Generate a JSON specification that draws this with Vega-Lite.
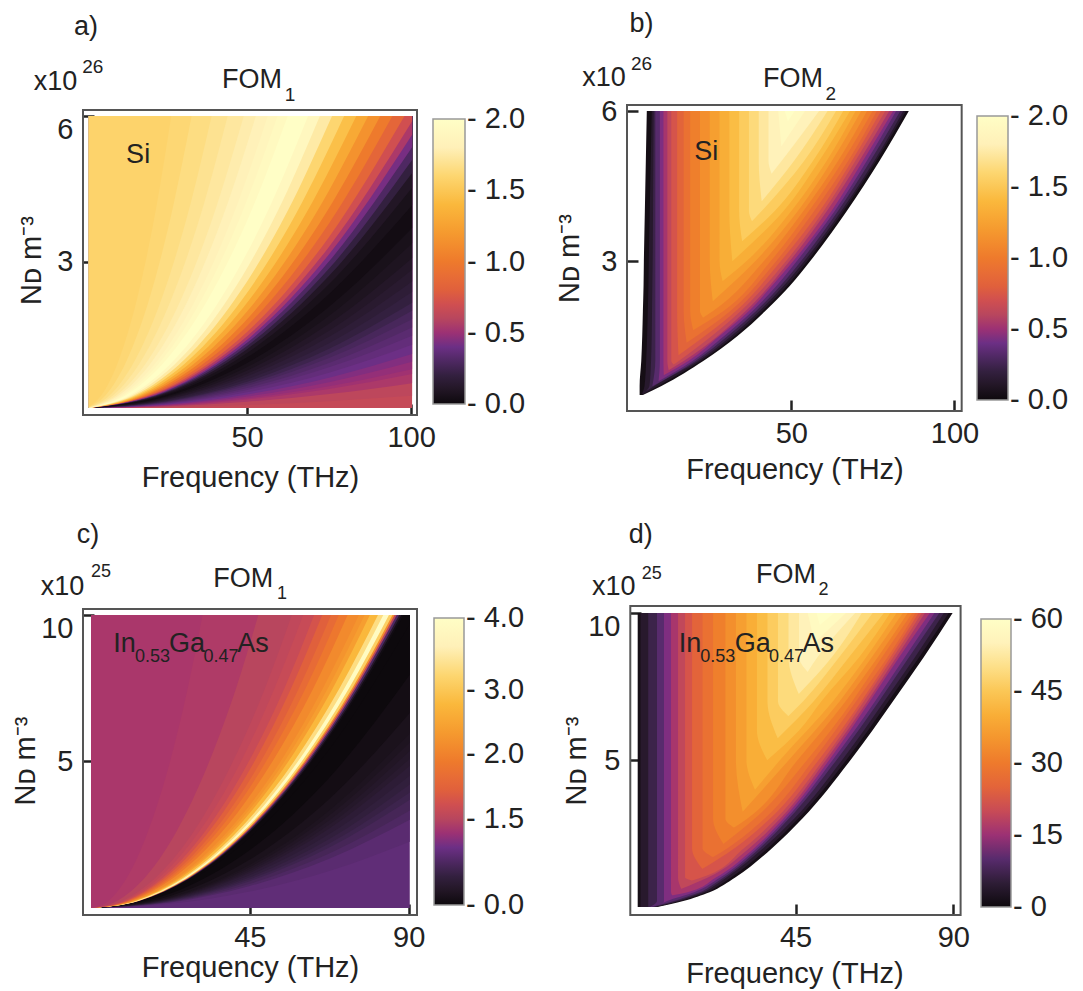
{"$schema":"https://vega.github.io/schema/vega-lite/v6.json","background":"white","padding":{"left":11,"top":10,"right":5,"bottom":5},"config":{"font":"Liberation Sans","view":{"stroke":null},"axis":{"grid":false,"domain":false,"labelFontSize":29,"titleFontSize":29,"titleFontWeight":"normal","labelColor":"#222","titleColor":"#222","tickColor":"#222","tickWidth":2.5,"tickSize":-11,"zindex":1,"labelOverlap":false,"labelFlush":false},"legend":{"labelFontSize":29,"labelColor":"#222","labelOverlap":false,"labelLimit":120,"gradientStrokeColor":"#999","gradientStrokeWidth":1.5,"labelOffset":0}},"resolve":{"scale":{"color":"independent"},"legend":{"color":"independent"}},"concat":[
{"width":334,"height":310,"encoding":{"x":{"field":"f","type":"quantitative","scale":{"domain":[0,101.8],"nice":false,"zero":false},"axis":{"values":[50,100],"title":"Frequency (THz)","labelPadding":19,"titlePadding":11}},"y":{"field":"n","type":"quantitative","stack":null,"scale":{"domain":[-0.144,6.226],"nice":false,"zero":false},"axis":{"values":[3,6],"title":"Nᴅ m⁻³","labelPadding":21,"titlePadding":10,"labelBaseline":{"condition":{"test":"datum.value==6","value":"top"},"value":"middle"}}}},"layer":[
{"mark":{"type":"area","orient":"vertical","interpolate":"monotone"},"encoding":{"y2":{"datum":6},"detail":{"field":"s"},"color":{"field":"v","type":"quantitative","scale":{"domain":[0,0.2,0.4,0.6,0.8,1,1.2,1.4,1.6,1.8,2],"range":["#0d090d","#33203f","#6c2f85","#b8465e","#e0603c","#ee7a2c","#f59a2f","#fab83c","#fdd670","#fff0b8","#ffffff"]},"legend":{"orient":"none","legendX":350,"legendY":14,"title":null,"type":"gradient","gradientLength":285,"gradientThickness":32,"values":[0,0.5,1,1.5,2],"labelExpr":"'- '+format(datum.value,'.1f')","encode":{"labels":{"update":{"baseline":{"value":"middle"}}}}}}},"data":{"values":[
{"s":"b","v":0.65,"f":1.8,"n":0},{"s":"b","v":0.65,"f":100.3,"n":0},
{"s":200,"v":0.62,"f":1.8,"n":0},{"s":200,"v":0.62,"f":25,"n":0.016},{"s":200,"v":0.62,"f":50,"n":0.063},{"s":200,"v":0.62,"f":75,"n":0.14},{"s":200,"v":0.62,"f":100.3,"n":0.25},
{"s":140,"v":0.55,"f":1.8,"n":0},{"s":140,"v":0.55,"f":25,"n":0.032},{"s":140,"v":0.55,"f":50,"n":0.128},{"s":140,"v":0.55,"f":75,"n":0.287},{"s":140,"v":0.55,"f":100.3,"n":0.51},
{"s":120,"v":0.51,"f":1.8,"n":0},{"s":120,"v":0.51,"f":25,"n":0.043},{"s":120,"v":0.51,"f":50,"n":0.174},{"s":120,"v":0.51,"f":75,"n":0.391},{"s":120,"v":0.51,"f":100.3,"n":0.699},
{"s":112,"v":0.48,"f":1.8,"n":0},{"s":112,"v":0.48,"f":25,"n":0.05},{"s":112,"v":0.48,"f":50,"n":0.2},{"s":112,"v":0.48,"f":75,"n":0.448},{"s":112,"v":0.48,"f":100.3,"n":0.797},
{"s":103,"v":0.44,"f":1.8,"n":0},{"s":103,"v":0.44,"f":25,"n":0.059},{"s":103,"v":0.44,"f":50,"n":0.236},{"s":103,"v":0.44,"f":75,"n":0.53},{"s":103,"v":0.44,"f":100.3,"n":0.948},
{"s":95,"v":0.4,"f":1.8,"n":0},{"s":95,"v":0.4,"f":25,"n":0.069},{"s":95,"v":0.4,"f":50,"n":0.277},{"s":95,"v":0.4,"f":75,"n":0.623},{"s":95,"v":0.4,"f":100.3,"n":1.108},
{"s":88,"v":0.37,"f":1.8,"n":0},{"s":88,"v":0.37,"f":25,"n":0.081},{"s":88,"v":0.37,"f":50,"n":0.323},{"s":88,"v":0.37,"f":75,"n":0.726},{"s":88,"v":0.37,"f":100.3,"n":1.299},
{"s":82,"v":0.34,"f":1.8,"n":0},{"s":82,"v":0.34,"f":25,"n":0.093},{"s":82,"v":0.34,"f":50,"n":0.372},{"s":82,"v":0.34,"f":75,"n":0.837},{"s":82,"v":0.34,"f":100.3,"n":1.487},
{"s":78,"v":0.31,"f":1.8,"n":0},{"s":78,"v":0.31,"f":25,"n":0.103},{"s":78,"v":0.31,"f":50,"n":0.411},{"s":78,"v":0.31,"f":75,"n":0.925},{"s":78,"v":0.31,"f":100.3,"n":1.654},
{"s":74,"v":0.28,"f":1.8,"n":0},{"s":74,"v":0.28,"f":25,"n":0.114},{"s":74,"v":0.28,"f":50,"n":0.457},{"s":74,"v":0.28,"f":75,"n":1.027},{"s":74,"v":0.28,"f":100.3,"n":1.826},
{"s":71,"v":0.24,"f":1.8,"n":0},{"s":71,"v":0.24,"f":25,"n":0.124},{"s":71,"v":0.24,"f":50,"n":0.496},{"s":71,"v":0.24,"f":75,"n":1.116},{"s":71,"v":0.24,"f":100.3,"n":1.996},
{"s":68,"v":0.2,"f":1.8,"n":0},{"s":68,"v":0.2,"f":25,"n":0.135},{"s":68,"v":0.2,"f":50,"n":0.541},{"s":68,"v":0.2,"f":75,"n":1.216},{"s":68,"v":0.2,"f":100.3,"n":2.163},
{"s":65,"v":0.17,"f":1.8,"n":0},{"s":65,"v":0.17,"f":25,"n":0.148},{"s":65,"v":0.17,"f":50,"n":0.592},{"s":65,"v":0.17,"f":75,"n":1.331},{"s":65,"v":0.17,"f":100.3,"n":2.381},
{"s":62,"v":0.14,"f":1.8,"n":0},{"s":62,"v":0.14,"f":25,"n":0.163},{"s":62,"v":0.14,"f":50,"n":0.65},{"s":62,"v":0.14,"f":75,"n":1.463},{"s":62,"v":0.14,"f":100.3,"n":2.601},
{"s":59.5,"v":0.11,"f":1.8,"n":0},{"s":59.5,"v":0.11,"f":25,"n":0.177},{"s":59.5,"v":0.11,"f":50,"n":0.706},{"s":59.5,"v":0.11,"f":75,"n":1.589},{"s":59.5,"v":0.11,"f":100.3,"n":2.842},
{"s":57,"v":0.08,"f":1.8,"n":0},{"s":57,"v":0.08,"f":25,"n":0.192},{"s":57,"v":0.08,"f":50,"n":0.769},{"s":57,"v":0.08,"f":75,"n":1.731},{"s":57,"v":0.08,"f":100.3,"n":3.078},
{"s":54.5,"v":0.05,"f":1.8,"n":0},{"s":54.5,"v":0.05,"f":25,"n":0.21},{"s":54.5,"v":0.05,"f":50,"n":0.842},{"s":54.5,"v":0.05,"f":75,"n":1.894},{"s":54.5,"v":0.05,"f":100.3,"n":3.387},
{"s":52,"v":0.02,"f":1.8,"n":0},{"s":52,"v":0.02,"f":25,"n":0.231},{"s":52,"v":0.02,"f":50,"n":0.925},{"s":52,"v":0.02,"f":75,"n":2.08},{"s":52,"v":0.02,"f":100.3,"n":3.698},
{"s":49,"v":0.05,"f":1.8,"n":0},{"s":49,"v":0.05,"f":25,"n":0.26},{"s":49,"v":0.05,"f":50,"n":1.041},{"s":49,"v":0.05,"f":75,"n":2.343},{"s":49,"v":0.05,"f":100.3,"n":4.165},
{"s":47,"v":0.1,"f":1.8,"n":0},{"s":47,"v":0.1,"f":25,"n":0.283},{"s":47,"v":0.1,"f":50,"n":1.132},{"s":47,"v":0.1,"f":75,"n":2.546},{"s":47,"v":0.1,"f":100.3,"n":4.527},
{"s":45.5,"v":0.2,"f":1.8,"n":0},{"s":45.5,"v":0.2,"f":25,"n":0.302},{"s":45.5,"v":0.2,"f":50,"n":1.208},{"s":45.5,"v":0.2,"f":75,"n":2.717},{"s":45.5,"v":0.2,"f":100.3,"n":4.83},
{"s":44.3,"v":0.3,"f":1.8,"n":0},{"s":44.3,"v":0.3,"f":25,"n":0.318},{"s":44.3,"v":0.3,"f":50,"n":1.274},{"s":44.3,"v":0.3,"f":75,"n":2.866},{"s":44.3,"v":0.3,"f":100.3,"n":5.096},
{"s":43.2,"v":0.42,"f":1.8,"n":0},{"s":43.2,"v":0.42,"f":25,"n":0.335},{"s":43.2,"v":0.42,"f":50,"n":1.34},{"s":43.2,"v":0.42,"f":75,"n":3.014},{"s":43.2,"v":0.42,"f":100.3,"n":5.358},
{"s":42.2,"v":0.55,"f":1.8,"n":0},{"s":42.2,"v":0.55,"f":25,"n":0.351},{"s":42.2,"v":0.55,"f":50,"n":1.404},{"s":42.2,"v":0.55,"f":75,"n":3.159},{"s":42.2,"v":0.55,"f":100.3,"n":5.615},
{"s":41.2,"v":0.7,"f":1.8,"n":0},{"s":41.2,"v":0.7,"f":25,"n":0.368},{"s":41.2,"v":0.7,"f":50,"n":1.473},{"s":41.2,"v":0.7,"f":75,"n":3.314},{"s":41.2,"v":0.7,"f":100.3,"n":5.891},
{"s":40,"v":0.85,"f":1.8,"n":0},{"s":40,"v":0.85,"f":25,"n":0.391},{"s":40,"v":0.85,"f":50,"n":1.563},{"s":40,"v":0.85,"f":75,"n":3.516},{"s":40,"v":0.85,"f":98,"n":6},
{"s":38.5,"v":1,"f":1.8,"n":0},{"s":38.5,"v":1,"f":19.25,"n":0.25},{"s":38.5,"v":1,"f":38.5,"n":1},{"s":38.5,"v":1,"f":57.75,"n":2.25},{"s":38.5,"v":1,"f":77,"n":4},{"s":38.5,"v":1,"f":94.3,"n":6},
{"s":37,"v":1.15,"f":1.8,"n":0},{"s":37,"v":1.15,"f":18.5,"n":0.25},{"s":37,"v":1.15,"f":37,"n":1},{"s":37,"v":1.15,"f":55.5,"n":2.25},{"s":37,"v":1.15,"f":74,"n":4},{"s":37,"v":1.15,"f":90.6,"n":6},
{"s":35.5,"v":1.3,"f":1.8,"n":0},{"s":35.5,"v":1.3,"f":17.75,"n":0.25},{"s":35.5,"v":1.3,"f":35.5,"n":1},{"s":35.5,"v":1.3,"f":53.25,"n":2.25},{"s":35.5,"v":1.3,"f":71,"n":4},{"s":35.5,"v":1.3,"f":86.9,"n":6},
{"s":34,"v":1.45,"f":1.8,"n":0},{"s":34,"v":1.45,"f":17,"n":0.25},{"s":34,"v":1.45,"f":34,"n":1},{"s":34,"v":1.45,"f":51,"n":2.25},{"s":34,"v":1.45,"f":68,"n":4},{"s":34,"v":1.45,"f":83.3,"n":6},
{"s":32.5,"v":1.6,"f":1.8,"n":0},{"s":32.5,"v":1.6,"f":16.25,"n":0.25},{"s":32.5,"v":1.6,"f":32.5,"n":1},{"s":32.5,"v":1.6,"f":48.75,"n":2.25},{"s":32.5,"v":1.6,"f":65,"n":4},{"s":32.5,"v":1.6,"f":79.6,"n":6},
{"s":31,"v":1.75,"f":1.8,"n":0},{"s":31,"v":1.75,"f":15.5,"n":0.25},{"s":31,"v":1.75,"f":31,"n":1},{"s":31,"v":1.75,"f":46.5,"n":2.25},{"s":31,"v":1.75,"f":62,"n":4},{"s":31,"v":1.75,"f":75.9,"n":6},
{"s":29.5,"v":1.9,"f":1.8,"n":0},{"s":29.5,"v":1.9,"f":14.75,"n":0.25},{"s":29.5,"v":1.9,"f":29.5,"n":1},{"s":29.5,"v":1.9,"f":44.25,"n":2.25},{"s":29.5,"v":1.9,"f":59,"n":4},{"s":29.5,"v":1.9,"f":72.2,"n":6},
{"s":28,"v":2,"f":1.8,"n":0},{"s":28,"v":2,"f":14,"n":0.25},{"s":28,"v":2,"f":28,"n":1},{"s":28,"v":2,"f":42,"n":2.25},{"s":28,"v":2,"f":56,"n":4},{"s":28,"v":2,"f":68.6,"n":6},
{"s":25.5,"v":1.92,"f":1.8,"n":0},{"s":25.5,"v":1.92,"f":12.75,"n":0.25},{"s":25.5,"v":1.92,"f":25.5,"n":1},{"s":25.5,"v":1.92,"f":38.25,"n":2.25},{"s":25.5,"v":1.92,"f":51,"n":4},{"s":25.5,"v":1.92,"f":62.4,"n":6},
{"s":24.2,"v":1.87,"f":1.8,"n":0},{"s":24.2,"v":1.87,"f":12.1,"n":0.25},{"s":24.2,"v":1.87,"f":24.2,"n":1},{"s":24.2,"v":1.87,"f":36.3,"n":2.25},{"s":24.2,"v":1.87,"f":48.4,"n":4},{"s":24.2,"v":1.87,"f":59.3,"n":6},
{"s":23,"v":1.82,"f":1.8,"n":0},{"s":23,"v":1.82,"f":11.5,"n":0.25},{"s":23,"v":1.82,"f":23,"n":1},{"s":23,"v":1.82,"f":34.5,"n":2.25},{"s":23,"v":1.82,"f":46,"n":4},{"s":23,"v":1.82,"f":56.3,"n":6},
{"s":21.5,"v":1.77,"f":1.8,"n":0.007},{"s":21.5,"v":1.77,"f":10.75,"n":0.25},{"s":21.5,"v":1.77,"f":21.5,"n":1},{"s":21.5,"v":1.77,"f":32.25,"n":2.25},{"s":21.5,"v":1.77,"f":43,"n":4},{"s":21.5,"v":1.77,"f":52.7,"n":6},
{"s":20,"v":1.73,"f":1.8,"n":0.008},{"s":20,"v":1.73,"f":10,"n":0.25},{"s":20,"v":1.73,"f":20,"n":1},{"s":20,"v":1.73,"f":30,"n":2.25},{"s":20,"v":1.73,"f":40,"n":4},{"s":20,"v":1.73,"f":49,"n":6},
{"s":18,"v":1.69,"f":1.8,"n":0.01},{"s":18,"v":1.69,"f":9,"n":0.25},{"s":18,"v":1.69,"f":18,"n":1},{"s":18,"v":1.69,"f":27,"n":2.25},{"s":18,"v":1.69,"f":36,"n":4},{"s":18,"v":1.69,"f":44.1,"n":6},
{"s":16,"v":1.65,"f":1.8,"n":0.013},{"s":16,"v":1.65,"f":8,"n":0.25},{"s":16,"v":1.65,"f":16,"n":1},{"s":16,"v":1.65,"f":24,"n":2.25},{"s":16,"v":1.65,"f":32,"n":4},{"s":16,"v":1.65,"f":39.2,"n":6},
{"s":13.5,"v":1.61,"f":1.8,"n":0.018},{"s":13.5,"v":1.61,"f":6.75,"n":0.25},{"s":13.5,"v":1.61,"f":13.5,"n":1},{"s":13.5,"v":1.61,"f":20.25,"n":2.25},{"s":13.5,"v":1.61,"f":27,"n":4},{"s":13.5,"v":1.61,"f":33.1,"n":6},
{"s":11,"v":1.58,"f":1.8,"n":0.027},{"s":11,"v":1.58,"f":5.5,"n":0.25},{"s":11,"v":1.58,"f":11,"n":1},{"s":11,"v":1.58,"f":16.5,"n":2.25},{"s":11,"v":1.58,"f":22,"n":4},{"s":11,"v":1.58,"f":26.9,"n":6}
]}},
{"data":{"values":[{"f":0,"f2":101.8,"n":-0.144,"n2":6.123}]},"mark":{"type":"rect","fill":null,"stroke":"#555","strokeWidth":2},"encoding":{"x2":{"field":"f2"},"y2":{"field":"n2"}}},
{"data":{"values":[{"t":"a)","f":0.9,"n":7.83},{"t":"x10","f":-8.4,"n":6.7},{"t":"FOM","f":51.5,"n":6.74},{"t":"Si","f":16.8,"n":5.2}]},"mark":{"type":"text","fontSize":27,"align":"center","baseline":"middle","color":"#222"},"encoding":{"text":{"field":"t"}}},
{"data":{"values":[{"t":"26","f":3,"n":7},{"t":"1","f":63.1,"n":6.43}]},"mark":{"type":"text","fontSize":19,"align":"center","baseline":"middle","color":"#222"},"encoding":{"text":{"field":"t"}}}
]},
{"width":335,"height":306,"encoding":{"x":{"field":"f","type":"quantitative","scale":{"domain":[-0.37,102.3],"nice":false,"zero":false},"axis":{"values":[50,100],"title":"Frequency (THz)","labelPadding":19,"titlePadding":7}},"y":{"field":"n","type":"quantitative","stack":null,"scale":{"domain":[0,6.12],"nice":false,"zero":false},"axis":{"values":[3,6],"title":"Nᴅ m⁻³","labelPadding":21,"titlePadding":16}}},"layer":[
{"mark":{"type":"area","orient":"horizontal","interpolate":"monotone"},"encoding":{"x2":{"field":"f2"},"detail":{"field":"L"},"color":{"field":"v","type":"quantitative","scale":{"domain":[0,0.2,0.4,0.6,0.8,1,1.2,1.4,1.6,1.8,2],"range":["#0d090d","#33203f","#6c2f85","#b8465e","#e0603c","#ee7a2c","#f59a2f","#fab83c","#fdd670","#fff0b8","#ffffff"]},"legend":{"orient":"none","legendX":350,"legendY":11,"title":null,"type":"gradient","gradientLength":284,"gradientThickness":31,"values":[0,0.5,1,1.5,2],"labelExpr":"'- '+format(datum.value,'.1f')","encode":{"labels":{"update":{"baseline":{"value":"middle"}}}}}}},"data":{"values":[
{"L":0,"v":0.03,"n":0.32,"f":3.5,"f2":4.5},{"L":0,"v":0.03,"n":0.5,"f":3.5,"f2":10.2},{"L":0,"v":0.03,"n":1,"f":4,"f2":23},{"L":0,"v":0.03,"n":1.5,"f":4.3,"f2":33.5},{"L":0,"v":0.03,"n":2,"f":4.5,"f2":42},{"L":0,"v":0.03,"n":2.5,"f":4.7,"f2":49.5},{"L":0,"v":0.03,"n":3,"f":4.8,"f2":55.8},{"L":0,"v":0.03,"n":4,"f":5.1,"f2":67},{"L":0,"v":0.03,"n":5,"f":5.4,"f2":77},{"L":0,"v":0.03,"n":6,"f":5.7,"f2":86},
{"L":0.1,"v":0.13,"n":0.33,"f":4.2,"f2":4.4},{"L":0.1,"v":0.13,"n":0.5,"f":5,"f2":9.2},{"L":0.1,"v":0.13,"n":1,"f":5.5,"f2":22.2},{"L":0.1,"v":0.13,"n":1.5,"f":5.8,"f2":32.6},{"L":0.1,"v":0.13,"n":2,"f":6,"f2":41.1},{"L":0.1,"v":0.13,"n":2.5,"f":6.2,"f2":48.6},{"L":0.1,"v":0.13,"n":3,"f":6.3,"f2":54.9},{"L":0.1,"v":0.13,"n":4,"f":6.6,"f2":66},{"L":0.1,"v":0.13,"n":5,"f":6.9,"f2":76},{"L":0.1,"v":0.13,"n":6,"f":7.2,"f2":85.1},
{"L":0.2,"v":0.23,"n":0.4,"f":5.5,"f2":5.6},{"L":0.2,"v":0.23,"n":0.5,"f":6.5,"f2":8},{"L":0.2,"v":0.23,"n":1,"f":7,"f2":21.4},{"L":0.2,"v":0.23,"n":1.5,"f":7.2,"f2":31.6},{"L":0.2,"v":0.23,"n":2,"f":7.3,"f2":40.2},{"L":0.2,"v":0.23,"n":2.5,"f":7.4,"f2":47.6},{"L":0.2,"v":0.23,"n":3,"f":7.5,"f2":54},{"L":0.2,"v":0.23,"n":4,"f":7.6,"f2":65.3},{"L":0.2,"v":0.23,"n":5,"f":7.7,"f2":75.4},{"L":0.2,"v":0.23,"n":6,"f":7.8,"f2":84.3},
{"L":0.3,"v":0.33,"n":0.5,"f":7.4,"f2":7.6},{"L":0.3,"v":0.33,"n":1,"f":8.3,"f2":20.6},{"L":0.3,"v":0.33,"n":1.5,"f":8.3,"f2":30.5},{"L":0.3,"v":0.33,"n":2,"f":8.3,"f2":39.2},{"L":0.3,"v":0.33,"n":2.5,"f":8.3,"f2":46.6},{"L":0.3,"v":0.33,"n":3,"f":8.3,"f2":53},{"L":0.3,"v":0.33,"n":4,"f":8.3,"f2":64.3},{"L":0.3,"v":0.33,"n":5,"f":8.3,"f2":74.2},{"L":0.3,"v":0.33,"n":6,"f":8.3,"f2":83.4},
{"L":0.4,"v":0.43,"n":0.6,"f":9.3,"f2":9.4},{"L":0.4,"v":0.43,"n":1,"f":9.7,"f2":19.7},{"L":0.4,"v":0.43,"n":1.5,"f":9.7,"f2":29.4},{"L":0.4,"v":0.43,"n":2,"f":9.7,"f2":38.1},{"L":0.4,"v":0.43,"n":2.5,"f":9.7,"f2":45.4},{"L":0.4,"v":0.43,"n":3,"f":9.7,"f2":51.7},{"L":0.4,"v":0.43,"n":4,"f":9.7,"f2":63.3},{"L":0.4,"v":0.43,"n":5,"f":9.7,"f2":73.1},{"L":0.4,"v":0.43,"n":6,"f":9.7,"f2":82.1},
{"L":0.5,"v":0.53,"n":0.72,"f":10.9,"f2":11},{"L":0.5,"v":0.53,"n":1,"f":10.8,"f2":18.4},{"L":0.5,"v":0.53,"n":1.5,"f":10.8,"f2":28},{"L":0.5,"v":0.53,"n":2,"f":10.8,"f2":37},{"L":0.5,"v":0.53,"n":2.5,"f":10.8,"f2":44},{"L":0.5,"v":0.53,"n":3,"f":10.8,"f2":50.6},{"L":0.5,"v":0.53,"n":4,"f":10.8,"f2":62.3},{"L":0.5,"v":0.53,"n":5,"f":10.8,"f2":71.9},{"L":0.5,"v":0.53,"n":6,"f":10.8,"f2":81.2},
{"L":0.6,"v":0.63,"n":0.82,"f":12.4,"f2":12.5},{"L":0.6,"v":0.63,"n":1,"f":12,"f2":17},{"L":0.6,"v":0.63,"n":2,"f":12,"f2":36},{"L":0.6,"v":0.63,"n":3,"f":12,"f2":49.5},{"L":0.6,"v":0.63,"n":4,"f":12,"f2":60.9},{"L":0.6,"v":0.63,"n":5,"f":12,"f2":70.8},{"L":0.6,"v":0.63,"n":6,"f":12,"f2":80},
{"L":0.7,"v":0.73,"n":0.93,"f":13.9,"f2":14},{"L":0.7,"v":0.73,"n":1,"f":13.2,"f2":15.5},{"L":0.7,"v":0.73,"n":2,"f":13.2,"f2":34.5},{"L":0.7,"v":0.73,"n":3,"f":13.2,"f2":48.4},{"L":0.7,"v":0.73,"n":4,"f":13.2,"f2":59.9},{"L":0.7,"v":0.73,"n":5,"f":13.2,"f2":69.6},{"L":0.7,"v":0.73,"n":6,"f":13.2,"f2":78.8},
{"L":0.8,"v":0.83,"n":1.12,"f":15.4,"f2":15.5},{"L":0.8,"v":0.83,"n":2,"f":15,"f2":33},{"L":0.8,"v":0.83,"n":3,"f":15,"f2":46.8},{"L":0.8,"v":0.83,"n":4,"f":15,"f2":58.7},{"L":0.8,"v":0.83,"n":5,"f":15,"f2":68.5},{"L":0.8,"v":0.83,"n":6,"f":15,"f2":77.5},
{"L":0.9,"v":0.93,"n":1.37,"f":17.9,"f2":18},{"L":0.9,"v":0.93,"n":2,"f":17,"f2":31.3},{"L":0.9,"v":0.93,"n":3,"f":17,"f2":45.4},{"L":0.9,"v":0.93,"n":4,"f":17,"f2":57},{"L":0.9,"v":0.93,"n":5,"f":17,"f2":67.4},{"L":0.9,"v":0.93,"n":6,"f":17,"f2":76.2},
{"L":1,"v":1.03,"n":1.62,"f":19.9,"f2":20},{"L":1,"v":1.03,"n":2,"f":19,"f2":29.2},{"L":1,"v":1.03,"n":3,"f":19,"f2":43.7},{"L":1,"v":1.03,"n":4,"f":19,"f2":55.4},{"L":1,"v":1.03,"n":5,"f":19,"f2":65.8},{"L":1,"v":1.03,"n":6,"f":19,"f2":74.9},
{"L":1.1,"v":1.13,"n":1.87,"f":22.9,"f2":23},{"L":1.1,"v":1.13,"n":2,"f":22,"f2":26},{"L":1.1,"v":1.13,"n":3,"f":22,"f2":41.6},{"L":1.1,"v":1.13,"n":4,"f":22,"f2":53.7},{"L":1.1,"v":1.13,"n":5,"f":22,"f2":64.3},{"L":1.1,"v":1.13,"n":6,"f":22,"f2":73.2},
{"L":1.2,"v":1.23,"n":2.2,"f":25.9,"f2":26},{"L":1.2,"v":1.23,"n":3,"f":25,"f2":39},{"L":1.2,"v":1.23,"n":4,"f":25,"f2":52},{"L":1.2,"v":1.23,"n":5,"f":25,"f2":62.4},{"L":1.2,"v":1.23,"n":6,"f":25,"f2":71.4},
{"L":1.3,"v":1.33,"n":2.6,"f":28.9,"f2":29},{"L":1.3,"v":1.33,"n":3,"f":28,"f2":36.3},{"L":1.3,"v":1.33,"n":4,"f":28,"f2":50},{"L":1.3,"v":1.33,"n":5,"f":28,"f2":60.8},{"L":1.3,"v":1.33,"n":6,"f":28,"f2":69.7},
{"L":1.4,"v":1.43,"n":3,"f":31.9,"f2":32},{"L":1.4,"v":1.43,"n":4,"f":31,"f2":47.6},{"L":1.4,"v":1.43,"n":5,"f":31,"f2":58.5},{"L":1.4,"v":1.43,"n":6,"f":31,"f2":68},
{"L":1.5,"v":1.53,"n":3.4,"f":34.9,"f2":35},{"L":1.5,"v":1.53,"n":4,"f":34,"f2":44.9},{"L":1.5,"v":1.53,"n":5,"f":34,"f2":56.6},{"L":1.5,"v":1.53,"n":6,"f":34,"f2":65.9},
{"L":1.6,"v":1.63,"n":3.8,"f":37.9,"f2":38},{"L":1.6,"v":1.63,"n":4,"f":37,"f2":40.9},{"L":1.6,"v":1.63,"n":5,"f":37,"f2":53.9},{"L":1.6,"v":1.63,"n":6,"f":37,"f2":63.7},
{"L":1.7,"v":1.73,"n":4.2,"f":40.9,"f2":41},{"L":1.7,"v":1.73,"n":5,"f":40,"f2":50.8},{"L":1.7,"v":1.73,"n":6,"f":40,"f2":61.1},
{"L":1.8,"v":1.83,"n":4.75,"f":43.9,"f2":44},{"L":1.8,"v":1.83,"n":5,"f":43,"f2":47},{"L":1.8,"v":1.83,"n":6,"f":43,"f2":58.5},
{"L":1.9,"v":1.93,"n":5.3,"f":46.9,"f2":47},{"L":1.9,"v":1.93,"n":6,"f":46,"f2":54.2},
{"L":1.97,"v":2,"n":5.8,"f":48.9,"f2":49},{"L":1.97,"v":2,"n":6,"f":48,"f2":51}
]}},
{"data":{"values":[{"f":-0.37,"f2":102.2,"n":0,"n2":6.12}]},"mark":{"type":"rect","fill":null,"stroke":"#555","strokeWidth":2},"encoding":{"x2":{"field":"f2"},"y2":{"field":"n2"}}},
{"data":{"values":[{"t":"b)","f":4.1,"n":7.74},{"t":"x10","f":-7.4,"n":6.66},{"t":"FOM","f":50.5,"n":6.64},{"t":"Si","f":23.9,"n":5.18}]},"mark":{"type":"text","fontSize":27,"align":"center","baseline":"middle","color":"#222"},"encoding":{"text":{"field":"t"}}},
{"data":{"values":[{"t":"26","f":4.1,"n":6.94},{"t":"2","f":62.1,"n":6.34}]},"mark":{"type":"text","fontSize":19,"align":"center","baseline":"middle","color":"#222"},"encoding":{"text":{"field":"t"}}}
]},
{"width":334,"height":309,"encoding":{"x":{"field":"f","type":"quantitative","scale":{"domain":[-2.27,92.35],"nice":false,"zero":false},"axis":{"values":[45,90],"title":"Frequency (THz)","labelPadding":19,"titlePadding":1}},"y":{"field":"n","type":"quantitative","stack":null,"scale":{"domain":[-0.239,10.307],"nice":false,"zero":false},"axis":{"values":[5,10],"title":"Nᴅ m⁻³","labelPadding":21,"titlePadding":0,"labelBaseline":{"condition":{"test":"datum.value==10","value":"top"},"value":"middle"}}}},"layer":[
{"mark":{"type":"area","orient":"vertical","interpolate":"monotone"},"encoding":{"y2":{"datum":10},"detail":{"field":"s"},"color":{"field":"v","type":"quantitative","scale":{"domain":[0,0.4,0.8,1.2,1.6,2,2.4,2.8,3.2,3.6,4],"range":["#0d090d","#33203f","#6c2f85","#b8465e","#e0603c","#ee7a2c","#f59a2f","#fab83c","#fdd670","#fff0b8","#ffffff"]},"legend":{"orient":"none","legendX":351,"legendY":12,"title":null,"type":"gradient","gradientLength":287,"gradientThickness":30,"values":[0,1.2,2.1,3,4],"labelExpr":"'- '+(datum.value==1.2?'1.5':datum.value==2.1?'2.0':format(datum.value,'.1f'))","encode":{"labels":{"update":{"baseline":{"value":"middle"}}}}}}},"data":{"values":[
{"s":"b","v":0.72,"f":0,"n":0},{"s":"b","v":0.72,"f":90.3,"n":0},
{"s":60,"v":0.68,"f":0,"n":0},{"s":60,"v":0.68,"f":22.5,"n":0.141},{"s":60,"v":0.68,"f":45,"n":0.563},{"s":60,"v":0.68,"f":67.5,"n":1.266},{"s":60,"v":0.68,"f":90.3,"n":2.265},
{"s":52,"v":0.6,"f":0,"n":0},{"s":52,"v":0.6,"f":22.5,"n":0.187},{"s":52,"v":0.6,"f":45,"n":0.749},{"s":52,"v":0.6,"f":67.5,"n":1.685},{"s":52,"v":0.6,"f":90.3,"n":3.015},
{"s":49.5,"v":0.54,"f":0,"n":0},{"s":49.5,"v":0.54,"f":22.5,"n":0.207},{"s":49.5,"v":0.54,"f":45,"n":0.826},{"s":49.5,"v":0.54,"f":67.5,"n":1.859},{"s":49.5,"v":0.54,"f":90.3,"n":3.328},
{"s":47,"v":0.48,"f":0,"n":0},{"s":47,"v":0.48,"f":22.5,"n":0.229},{"s":47,"v":0.48,"f":45,"n":0.917},{"s":47,"v":0.48,"f":67.5,"n":2.063},{"s":47,"v":0.48,"f":90.3,"n":3.691},
{"s":45.5,"v":0.43,"f":0,"n":0},{"s":45.5,"v":0.43,"f":22.5,"n":0.245},{"s":45.5,"v":0.43,"f":45,"n":0.978},{"s":45.5,"v":0.43,"f":67.5,"n":2.201},{"s":45.5,"v":0.43,"f":90.3,"n":3.939},
{"s":44,"v":0.38,"f":0,"n":0},{"s":44,"v":0.38,"f":22.5,"n":0.262},{"s":44,"v":0.38,"f":45,"n":1.046},{"s":44,"v":0.38,"f":67.5,"n":2.353},{"s":44,"v":0.38,"f":90.3,"n":4.212},
{"s":42.5,"v":0.33,"f":0,"n":0},{"s":42.5,"v":0.33,"f":22.5,"n":0.28},{"s":42.5,"v":0.33,"f":45,"n":1.121},{"s":42.5,"v":0.33,"f":67.5,"n":2.522},{"s":42.5,"v":0.33,"f":90.3,"n":4.514},
{"s":41,"v":0.28,"f":0,"n":0},{"s":41,"v":0.28,"f":22.5,"n":0.301},{"s":41,"v":0.28,"f":45,"n":1.205},{"s":41,"v":0.28,"f":67.5,"n":2.71},{"s":41,"v":0.28,"f":90.3,"n":4.851},
{"s":40,"v":0.24,"f":0,"n":0},{"s":40,"v":0.24,"f":22.5,"n":0.316},{"s":40,"v":0.24,"f":45,"n":1.266},{"s":40,"v":0.24,"f":67.5,"n":2.848},{"s":40,"v":0.24,"f":90.3,"n":5.096},
{"s":39,"v":0.2,"f":0,"n":0},{"s":39,"v":0.2,"f":22.5,"n":0.333},{"s":39,"v":0.2,"f":45,"n":1.331},{"s":39,"v":0.2,"f":67.5,"n":2.996},{"s":39,"v":0.2,"f":90.3,"n":5.361},
{"s":38,"v":0.16,"f":0,"n":0},{"s":38,"v":0.16,"f":22.5,"n":0.351},{"s":38,"v":0.16,"f":45,"n":1.402},{"s":38,"v":0.16,"f":67.5,"n":3.155},{"s":38,"v":0.16,"f":90.3,"n":5.647},
{"s":37,"v":0.12,"f":0,"n":0},{"s":37,"v":0.12,"f":22.5,"n":0.37},{"s":37,"v":0.12,"f":45,"n":1.479},{"s":37,"v":0.12,"f":67.5,"n":3.328},{"s":37,"v":0.12,"f":90.3,"n":5.956},
{"s":35,"v":0.05,"f":0,"n":0},{"s":35,"v":0.05,"f":22.5,"n":0.413},{"s":35,"v":0.05,"f":45,"n":1.653},{"s":35,"v":0.05,"f":67.5,"n":3.719},{"s":35,"v":0.05,"f":90.3,"n":6.657},
{"s":32,"v":0,"f":0,"n":0},{"s":32,"v":0,"f":22.5,"n":0.494},{"s":32,"v":0,"f":45,"n":1.978},{"s":32,"v":0,"f":67.5,"n":4.449},{"s":32,"v":0,"f":90.3,"n":7.963},
{"s":29,"v":0,"f":0,"n":0},{"s":29,"v":0,"f":22.5,"n":0.602},{"s":29,"v":0,"f":45,"n":2.408},{"s":29,"v":0,"f":67.5,"n":5.418},{"s":29,"v":0,"f":90.3,"n":9.696},
{"s":28,"v":0.03,"f":0,"n":0},{"s":28,"v":0.03,"f":14,"n":0.25},{"s":28,"v":0.03,"f":28,"n":1},{"s":28,"v":0.03,"f":44.3,"n":2.5},{"s":28,"v":0.03,"f":62.6,"n":5},{"s":28,"v":0.03,"f":76.7,"n":7.5},{"s":28,"v":0.03,"f":88.5,"n":10},
{"s":27.8,"v":0.25,"f":0,"n":0},{"s":27.8,"v":0.25,"f":13.9,"n":0.25},{"s":27.8,"v":0.25,"f":27.8,"n":1},{"s":27.8,"v":0.25,"f":44,"n":2.5},{"s":27.8,"v":0.25,"f":62.2,"n":5},{"s":27.8,"v":0.25,"f":76.1,"n":7.5},{"s":27.8,"v":0.25,"f":87.9,"n":10},
{"s":27.6,"v":0.6,"f":0,"n":0},{"s":27.6,"v":0.6,"f":13.8,"n":0.25},{"s":27.6,"v":0.6,"f":27.6,"n":1},{"s":27.6,"v":0.6,"f":43.6,"n":2.5},{"s":27.6,"v":0.6,"f":61.7,"n":5},{"s":27.6,"v":0.6,"f":75.6,"n":7.5},{"s":27.6,"v":0.6,"f":87.3,"n":10},
{"s":27.4,"v":1.2,"f":0,"n":0},{"s":27.4,"v":1.2,"f":13.7,"n":0.25},{"s":27.4,"v":1.2,"f":27.4,"n":1},{"s":27.4,"v":1.2,"f":43.3,"n":2.5},{"s":27.4,"v":1.2,"f":61.3,"n":5},{"s":27.4,"v":1.2,"f":75,"n":7.5},{"s":27.4,"v":1.2,"f":86.6,"n":10},
{"s":27.2,"v":2.2,"f":0,"n":0},{"s":27.2,"v":2.2,"f":13.6,"n":0.25},{"s":27.2,"v":2.2,"f":27.2,"n":1},{"s":27.2,"v":2.2,"f":43,"n":2.5},{"s":27.2,"v":2.2,"f":60.8,"n":5},{"s":27.2,"v":2.2,"f":74.5,"n":7.5},{"s":27.2,"v":2.2,"f":86,"n":10},
{"s":27,"v":3.1,"f":0,"n":0},{"s":27,"v":3.1,"f":13.5,"n":0.25},{"s":27,"v":3.1,"f":27,"n":1},{"s":27,"v":3.1,"f":42.7,"n":2.5},{"s":27,"v":3.1,"f":60.4,"n":5},{"s":27,"v":3.1,"f":74,"n":7.5},{"s":27,"v":3.1,"f":85.4,"n":10},
{"s":26.7,"v":3.9,"f":0,"n":0},{"s":26.7,"v":3.9,"f":13.35,"n":0.25},{"s":26.7,"v":3.9,"f":26.7,"n":1},{"s":26.7,"v":3.9,"f":42.2,"n":2.5},{"s":26.7,"v":3.9,"f":59.7,"n":5},{"s":26.7,"v":3.9,"f":73.1,"n":7.5},{"s":26.7,"v":3.9,"f":84.4,"n":10},
{"s":26.2,"v":3.3,"f":0,"n":0},{"s":26.2,"v":3.3,"f":13.1,"n":0.25},{"s":26.2,"v":3.3,"f":26.2,"n":1},{"s":26.2,"v":3.3,"f":41.4,"n":2.5},{"s":26.2,"v":3.3,"f":58.6,"n":5},{"s":26.2,"v":3.3,"f":71.8,"n":7.5},{"s":26.2,"v":3.3,"f":82.8,"n":10},
{"s":25.7,"v":2.8,"f":0,"n":0},{"s":25.7,"v":2.8,"f":12.85,"n":0.25},{"s":25.7,"v":2.8,"f":25.7,"n":1},{"s":25.7,"v":2.8,"f":40.6,"n":2.5},{"s":25.7,"v":2.8,"f":57.5,"n":5},{"s":25.7,"v":2.8,"f":70.4,"n":7.5},{"s":25.7,"v":2.8,"f":81.3,"n":10},
{"s":25,"v":2.45,"f":0,"n":0},{"s":25,"v":2.45,"f":12.5,"n":0.25},{"s":25,"v":2.45,"f":25,"n":1},{"s":25,"v":2.45,"f":39.5,"n":2.5},{"s":25,"v":2.45,"f":55.9,"n":5},{"s":25,"v":2.45,"f":68.5,"n":7.5},{"s":25,"v":2.45,"f":79,"n":10},
{"s":24.5,"v":2.32,"f":0,"n":0},{"s":24.5,"v":2.32,"f":12.25,"n":0.25},{"s":24.5,"v":2.32,"f":24.5,"n":1},{"s":24.5,"v":2.32,"f":38.7,"n":2.5},{"s":24.5,"v":2.32,"f":54.8,"n":5},{"s":24.5,"v":2.32,"f":67.1,"n":7.5},{"s":24.5,"v":2.32,"f":77.5,"n":10},
{"s":24,"v":2.2,"f":0,"n":0},{"s":24,"v":2.2,"f":12,"n":0.25},{"s":24,"v":2.2,"f":24,"n":1},{"s":24,"v":2.2,"f":37.9,"n":2.5},{"s":24,"v":2.2,"f":53.7,"n":5},{"s":24,"v":2.2,"f":65.7,"n":7.5},{"s":24,"v":2.2,"f":75.9,"n":10},
{"s":23,"v":1.95,"f":0,"n":0},{"s":23,"v":1.95,"f":11.5,"n":0.25},{"s":23,"v":1.95,"f":23,"n":1},{"s":23,"v":1.95,"f":36.4,"n":2.5},{"s":23,"v":1.95,"f":51.4,"n":5},{"s":23,"v":1.95,"f":63,"n":7.5},{"s":23,"v":1.95,"f":72.7,"n":10},
{"s":22.2,"v":1.78,"f":0,"n":0},{"s":22.2,"v":1.78,"f":11.1,"n":0.25},{"s":22.2,"v":1.78,"f":22.2,"n":1},{"s":22.2,"v":1.78,"f":35.1,"n":2.5},{"s":22.2,"v":1.78,"f":49.6,"n":5},{"s":22.2,"v":1.78,"f":60.8,"n":7.5},{"s":22.2,"v":1.78,"f":70.2,"n":10},
{"s":21.5,"v":1.6,"f":0,"n":0},{"s":21.5,"v":1.6,"f":10.75,"n":0.25},{"s":21.5,"v":1.6,"f":21.5,"n":1},{"s":21.5,"v":1.6,"f":34,"n":2.5},{"s":21.5,"v":1.6,"f":48.1,"n":5},{"s":21.5,"v":1.6,"f":58.9,"n":7.5},{"s":21.5,"v":1.6,"f":68,"n":10},
{"s":20.7,"v":1.45,"f":0,"n":0},{"s":20.7,"v":1.45,"f":10.35,"n":0.25},{"s":20.7,"v":1.45,"f":20.7,"n":1},{"s":20.7,"v":1.45,"f":32.7,"n":2.5},{"s":20.7,"v":1.45,"f":46.3,"n":5},{"s":20.7,"v":1.45,"f":56.7,"n":7.5},{"s":20.7,"v":1.45,"f":65.5,"n":10},
{"s":20,"v":1.32,"f":0,"n":0},{"s":20,"v":1.32,"f":10,"n":0.25},{"s":20,"v":1.32,"f":20,"n":1},{"s":20,"v":1.32,"f":31.6,"n":2.5},{"s":20,"v":1.32,"f":44.7,"n":5},{"s":20,"v":1.32,"f":54.8,"n":7.5},{"s":20,"v":1.32,"f":63.2,"n":10},
{"s":19,"v":1.26,"f":0,"n":0},{"s":19,"v":1.26,"f":9.5,"n":0.25},{"s":19,"v":1.26,"f":19,"n":1},{"s":19,"v":1.26,"f":30,"n":2.5},{"s":19,"v":1.26,"f":42.5,"n":5},{"s":19,"v":1.26,"f":52,"n":7.5},{"s":19,"v":1.26,"f":60.1,"n":10},
{"s":18,"v":1.2,"f":0,"n":0},{"s":18,"v":1.2,"f":9,"n":0.25},{"s":18,"v":1.2,"f":18,"n":1},{"s":18,"v":1.2,"f":28.5,"n":2.5},{"s":18,"v":1.2,"f":40.2,"n":5},{"s":18,"v":1.2,"f":49.3,"n":7.5},{"s":18,"v":1.2,"f":56.9,"n":10},
{"s":15,"v":1.12,"f":0,"n":0},{"s":15,"v":1.12,"f":7.5,"n":0.25},{"s":15,"v":1.12,"f":15,"n":1},{"s":15,"v":1.12,"f":23.7,"n":2.5},{"s":15,"v":1.12,"f":33.5,"n":5},{"s":15,"v":1.12,"f":41.1,"n":7.5},{"s":15,"v":1.12,"f":47.4,"n":10},
{"s":10,"v":1.08,"f":0,"n":0},{"s":10,"v":1.08,"f":5,"n":0.25},{"s":10,"v":1.08,"f":10,"n":1},{"s":10,"v":1.08,"f":15.8,"n":2.5},{"s":10,"v":1.08,"f":22.4,"n":5},{"s":10,"v":1.08,"f":27.4,"n":7.5},{"s":10,"v":1.08,"f":31.6,"n":10}
]}},
{"data":{"values":[{"f":-2.27,"f2":92.35,"n":-0.239,"n2":10.205}]},"mark":{"type":"rect","fill":null,"stroke":"#555","strokeWidth":2},"encoding":{"x2":{"field":"f2"},"y2":{"field":"n2"}}},
{"data":{"values":[{"t":"c)","f":-0.85,"n":12.73},{"t":"x10","f":-8.1,"n":10.96},{"t":"FOM","f":43.1,"n":11.23},{"t":"In","f":9.5,"n":9.01},{"t":"Ga","f":27.2,"n":9.01},{"t":"As","f":45.9,"n":9.01}]},"mark":{"type":"text","fontSize":27,"align":"center","baseline":"middle","color":"#222"},"encoding":{"text":{"field":"t"}}},
{"data":{"values":[{"t":"25","f":2.8,"n":11.47},{"t":"1","f":54.1,"n":10.72},{"t":"0.53","f":17.4,"n":8.57},{"t":"0.47","f":36.8,"n":8.57}]},"mark":{"type":"text","fontSize":18,"align":"center","baseline":"middle","color":"#222"},"encoding":{"text":{"field":"t"}}}
]},
{"width":335,"height":309,"encoding":{"x":{"field":"f","type":"quantitative","scale":{"domain":[-3.05,92.47],"nice":false,"zero":false},"axis":{"values":[45,90],"title":"Frequency (THz)","labelPadding":19,"titlePadding":7}},"y":{"field":"n","type":"quantitative","stack":null,"scale":{"domain":[-0.272,10.238],"nice":false,"zero":false},"axis":{"values":[5,10],"title":"Nᴅ m⁻³","labelPadding":21,"titlePadding":-4,"offset":-3,"labelBaseline":{"condition":{"test":"datum.value==10","value":"top"},"value":"middle"}}}},"layer":[
{"mark":{"type":"area","orient":"horizontal","interpolate":"monotone"},"encoding":{"x2":{"field":"f2"},"detail":{"field":"L"},"color":{"field":"v","type":"quantitative","scale":{"domain":[0,6,12,18,24,30,36,42,48,54,60],"range":["#0d090d","#33203f","#6c2f85","#b8465e","#e0603c","#ee7a2c","#f59a2f","#fab83c","#fdd670","#fff0b8","#ffffff"]},"legend":{"orient":"none","legendX":354,"legendY":13,"title":null,"type":"gradient","gradientLength":288,"gradientThickness":30,"values":[0,15,30,45,60],"labelExpr":"'- '+datum.value","encode":{"labels":{"update":{"baseline":{"value":"middle"}}}}}}},"data":{"values":[
{"L":0,"v":1,"n":0,"f":0,"f2":5.6},{"L":0,"v":1,"n":0.2,"f":0,"f2":13},{"L":0,"v":1,"n":0.35,"f":0,"f2":17},{"L":0,"v":1,"n":0.5,"f":0,"f2":20.5},{"L":0,"v":1,"n":0.75,"f":0,"f2":24.5},{"L":0,"v":1,"n":1,"f":0,"f2":27.8},{"L":0,"v":1,"n":2,"f":0,"f2":38.3},{"L":0,"v":1,"n":3,"f":0,"f2":46.9},{"L":0,"v":1,"n":5,"f":0,"f2":60.7},{"L":0,"v":1,"n":7,"f":0,"f2":72.8},{"L":0,"v":1,"n":8.5,"f":0,"f2":81.6},{"L":0,"v":1,"n":10,"f":0,"f2":89.8},
{"L":3,"v":4,"n":0,"f":0.8,"f2":5.1},{"L":3,"v":4,"n":0.2,"f":0.8,"f2":12.1},{"L":3,"v":4,"n":0.35,"f":0.8,"f2":16},{"L":3,"v":4,"n":0.5,"f":0.8,"f2":19.6},{"L":3,"v":4,"n":0.75,"f":0.8,"f2":23.4},{"L":3,"v":4,"n":1,"f":0.8,"f2":26.6},{"L":3,"v":4,"n":2,"f":0.8,"f2":37.1},{"L":3,"v":4,"n":3,"f":0.8,"f2":45.7},{"L":3,"v":4,"n":5,"f":0.8,"f2":59.5},{"L":3,"v":4,"n":7,"f":0.8,"f2":71.5},{"L":3,"v":4,"n":8.5,"f":0.8,"f2":80.3},{"L":3,"v":4,"n":10,"f":0.8,"f2":88.7},
{"L":6,"v":7,"n":0,"f":3,"f2":4.7},{"L":6,"v":7,"n":0.2,"f":3,"f2":11.3},{"L":6,"v":7,"n":0.35,"f":3,"f2":15},{"L":6,"v":7,"n":0.5,"f":3,"f2":18.6},{"L":6,"v":7,"n":0.75,"f":3,"f2":22.2},{"L":6,"v":7,"n":1,"f":3,"f2":25.3},{"L":6,"v":7,"n":2,"f":3,"f2":35.8},{"L":6,"v":7,"n":3,"f":3,"f2":44.6},{"L":6,"v":7,"n":5,"f":3,"f2":58.3},{"L":6,"v":7,"n":7,"f":3,"f2":70.3},{"L":6,"v":7,"n":8.5,"f":3,"f2":79.1},{"L":6,"v":7,"n":10,"f":3,"f2":87.3},
{"L":9,"v":10,"n":0,"f":3.5,"f2":4},{"L":9,"v":10,"n":0.2,"f":5.5,"f2":10.3},{"L":9,"v":10,"n":0.35,"f":5.5,"f2":14},{"L":9,"v":10,"n":0.5,"f":5.5,"f2":17.7},{"L":9,"v":10,"n":0.75,"f":5.5,"f2":21.3},{"L":9,"v":10,"n":1,"f":5.5,"f2":24.5},{"L":9,"v":10,"n":2,"f":5.5,"f2":34.8},{"L":9,"v":10,"n":3,"f":5.5,"f2":43.1},{"L":9,"v":10,"n":5,"f":5.5,"f2":56.7},{"L":9,"v":10,"n":7,"f":5.5,"f2":68.8},{"L":9,"v":10,"n":8.5,"f":5.5,"f2":77.4},{"L":9,"v":10,"n":10,"f":5.5,"f2":86},
{"L":12,"v":13,"n":0.15,"f":7.3,"f2":7.5},{"L":12,"v":13,"n":0.2,"f":7.5,"f2":8.4},{"L":12,"v":13,"n":0.5,"f":7.5,"f2":16.1},{"L":12,"v":13,"n":1,"f":7.5,"f2":23.5},{"L":12,"v":13,"n":2,"f":7.5,"f2":34},{"L":12,"v":13,"n":3,"f":7.5,"f2":42.3},{"L":12,"v":13,"n":5,"f":7.5,"f2":55.6},{"L":12,"v":13,"n":7,"f":7.5,"f2":67.7},{"L":12,"v":13,"n":8.5,"f":7.5,"f2":76.2},{"L":12,"v":13,"n":10,"f":7.5,"f2":84.6},
{"L":15,"v":16,"n":0.4,"f":9.8,"f2":10},{"L":15,"v":16,"n":0.5,"f":9.5,"f2":14.2},{"L":15,"v":16,"n":1,"f":9.5,"f2":22.3},{"L":15,"v":16,"n":2,"f":9.5,"f2":33.2},{"L":15,"v":16,"n":3,"f":9.5,"f2":41.5},{"L":15,"v":16,"n":5,"f":9.5,"f2":54.6},{"L":15,"v":16,"n":7,"f":9.5,"f2":66.2},{"L":15,"v":16,"n":8.5,"f":9.5,"f2":74.6},{"L":15,"v":16,"n":10,"f":9.5,"f2":83.3},
{"L":18,"v":19,"n":0.62,"f":12.4,"f2":12.5},{"L":18,"v":19,"n":1,"f":11.5,"f2":20},{"L":18,"v":19,"n":2,"f":11.5,"f2":31.8},{"L":18,"v":19,"n":3,"f":11.5,"f2":40.6},{"L":18,"v":19,"n":5,"f":11.5,"f2":53.7},{"L":18,"v":19,"n":7,"f":11.5,"f2":65.5},{"L":18,"v":19,"n":8.5,"f":11.5,"f2":73.8},{"L":18,"v":19,"n":10,"f":11.5,"f2":81.9},
{"L":21,"v":22,"n":0.9,"f":15.4,"f2":15.5},{"L":21,"v":22,"n":1,"f":13.5,"f2":18.2},{"L":21,"v":22,"n":2,"f":13.5,"f2":30.3},{"L":21,"v":22,"n":3,"f":13.5,"f2":39.4},{"L":21,"v":22,"n":5,"f":13.5,"f2":52.9},{"L":21,"v":22,"n":7,"f":13.5,"f2":64.5},{"L":21,"v":22,"n":8.5,"f":13.5,"f2":72.9},{"L":21,"v":22,"n":10,"f":13.5,"f2":81},
{"L":24,"v":25,"n":1.3,"f":18.4,"f2":18.5},{"L":24,"v":25,"n":2,"f":15.5,"f2":27.6},{"L":24,"v":25,"n":3,"f":15.5,"f2":37.7},{"L":24,"v":25,"n":5,"f":15.5,"f2":51.6},{"L":24,"v":25,"n":7,"f":15.5,"f2":63.8},{"L":24,"v":25,"n":8.5,"f":15.5,"f2":72.1},{"L":24,"v":25,"n":10,"f":15.5,"f2":80.1},
{"L":27,"v":28,"n":1.7,"f":21.4,"f2":21.5},{"L":27,"v":28,"n":2,"f":18.5,"f2":25.6},{"L":27,"v":28,"n":3,"f":18.5,"f2":36.1},{"L":27,"v":28,"n":5,"f":18.5,"f2":50.1},{"L":27,"v":28,"n":7,"f":18.5,"f2":62.3},{"L":27,"v":28,"n":8.5,"f":18.5,"f2":71.3},{"L":27,"v":28,"n":10,"f":18.5,"f2":79.2},
{"L":30,"v":31,"n":2.15,"f":24.4,"f2":24.5},{"L":30,"v":31,"n":3,"f":21.5,"f2":33.3},{"L":30,"v":31,"n":5,"f":21.5,"f2":48.3},{"L":30,"v":31,"n":7,"f":21.5,"f2":61.2},{"L":30,"v":31,"n":8.5,"f":21.5,"f2":69.7},{"L":30,"v":31,"n":10,"f":21.5,"f2":78.3},
{"L":33,"v":34,"n":2.7,"f":27.4,"f2":27.5},{"L":33,"v":34,"n":3,"f":25,"f2":31.2},{"L":33,"v":34,"n":5,"f":25,"f2":45.6},{"L":33,"v":34,"n":7,"f":25,"f2":59.3},{"L":33,"v":34,"n":8.5,"f":25,"f2":68.5},{"L":33,"v":34,"n":10,"f":25,"f2":77},
{"L":36,"v":37,"n":3.25,"f":29.9,"f2":30},{"L":36,"v":37,"n":5,"f":28,"f2":43.1},{"L":36,"v":37,"n":7,"f":28,"f2":57.6},{"L":36,"v":37,"n":8.5,"f":28,"f2":66.8},{"L":36,"v":37,"n":10,"f":28,"f2":75.6},
{"L":39,"v":40,"n":4,"f":33.4,"f2":33.5},{"L":39,"v":40,"n":5,"f":31,"f2":40.6},{"L":39,"v":40,"n":7,"f":31,"f2":55.7},{"L":39,"v":40,"n":8.5,"f":31,"f2":65.2},{"L":39,"v":40,"n":10,"f":31,"f2":73.8},
{"L":42,"v":43,"n":5,"f":36.9,"f2":37},{"L":42,"v":43,"n":6,"f":34,"f2":46},{"L":42,"v":43,"n":7,"f":34,"f2":52.4},{"L":42,"v":43,"n":8.5,"f":34,"f2":63.2},{"L":42,"v":43,"n":10,"f":34,"f2":72},
{"L":45,"v":46,"n":5.75,"f":39.9,"f2":40},{"L":45,"v":46,"n":7,"f":37,"f2":50.2},{"L":45,"v":46,"n":8.5,"f":37,"f2":60.3},{"L":45,"v":46,"n":10,"f":37,"f2":70.2},
{"L":48,"v":49,"n":6.5,"f":42.9,"f2":43},{"L":48,"v":49,"n":7,"f":40,"f2":47.2},{"L":48,"v":49,"n":8.5,"f":40,"f2":57.5},{"L":48,"v":49,"n":10,"f":40,"f2":67},
{"L":51,"v":52,"n":7.25,"f":45.9,"f2":46},{"L":51,"v":52,"n":8.5,"f":43,"f2":55.4},{"L":51,"v":52,"n":10,"f":43,"f2":63.9},
{"L":54,"v":55,"n":8,"f":48.4,"f2":48.5},{"L":54,"v":55,"n":8.5,"f":46,"f2":51.3},{"L":54,"v":55,"n":10,"f":46,"f2":62},
{"L":57,"v":58,"n":9,"f":50.4,"f2":50.5},{"L":57,"v":58,"n":10,"f":48.5,"f2":59.4},
{"L":59,"v":60,"n":9.6,"f":51.9,"f2":52},{"L":59,"v":60,"n":10,"f":51,"f2":56}
]}},
{"data":{"values":[{"f":-2.11,"f2":92.07,"n":-0.272,"n2":10.238}]},"mark":{"type":"rect","fill":null,"stroke":"#555","strokeWidth":2},"encoding":{"x2":{"field":"f2"},"y2":{"field":"n2"}}},
{"data":{"values":[{"t":"d)","f":0.9,"n":12.65},{"t":"x10","f":-6.8,"n":10.88},{"t":"FOM","f":42.3,"n":11.29},{"t":"In","f":14.9,"n":8.95},{"t":"Ga","f":32.8,"n":8.95},{"t":"As","f":51.5,"n":8.95}]},"mark":{"type":"text","fontSize":27,"align":"center","baseline":"middle","color":"#222"},"encoding":{"text":{"field":"t"}}},
{"data":{"values":[{"t":"25","f":4,"n":11.33},{"t":"2","f":53,"n":10.78},{"t":"0.53","f":22.8,"n":8.5},{"t":"0.47","f":42.4,"n":8.5}]},"mark":{"type":"text","fontSize":18,"align":"center","baseline":"middle","color":"#222"},"encoding":{"text":{"field":"t"}}}
]}
],"columns":2,"spacing":{"row":191,"column":210},"bounds":"flush"}
